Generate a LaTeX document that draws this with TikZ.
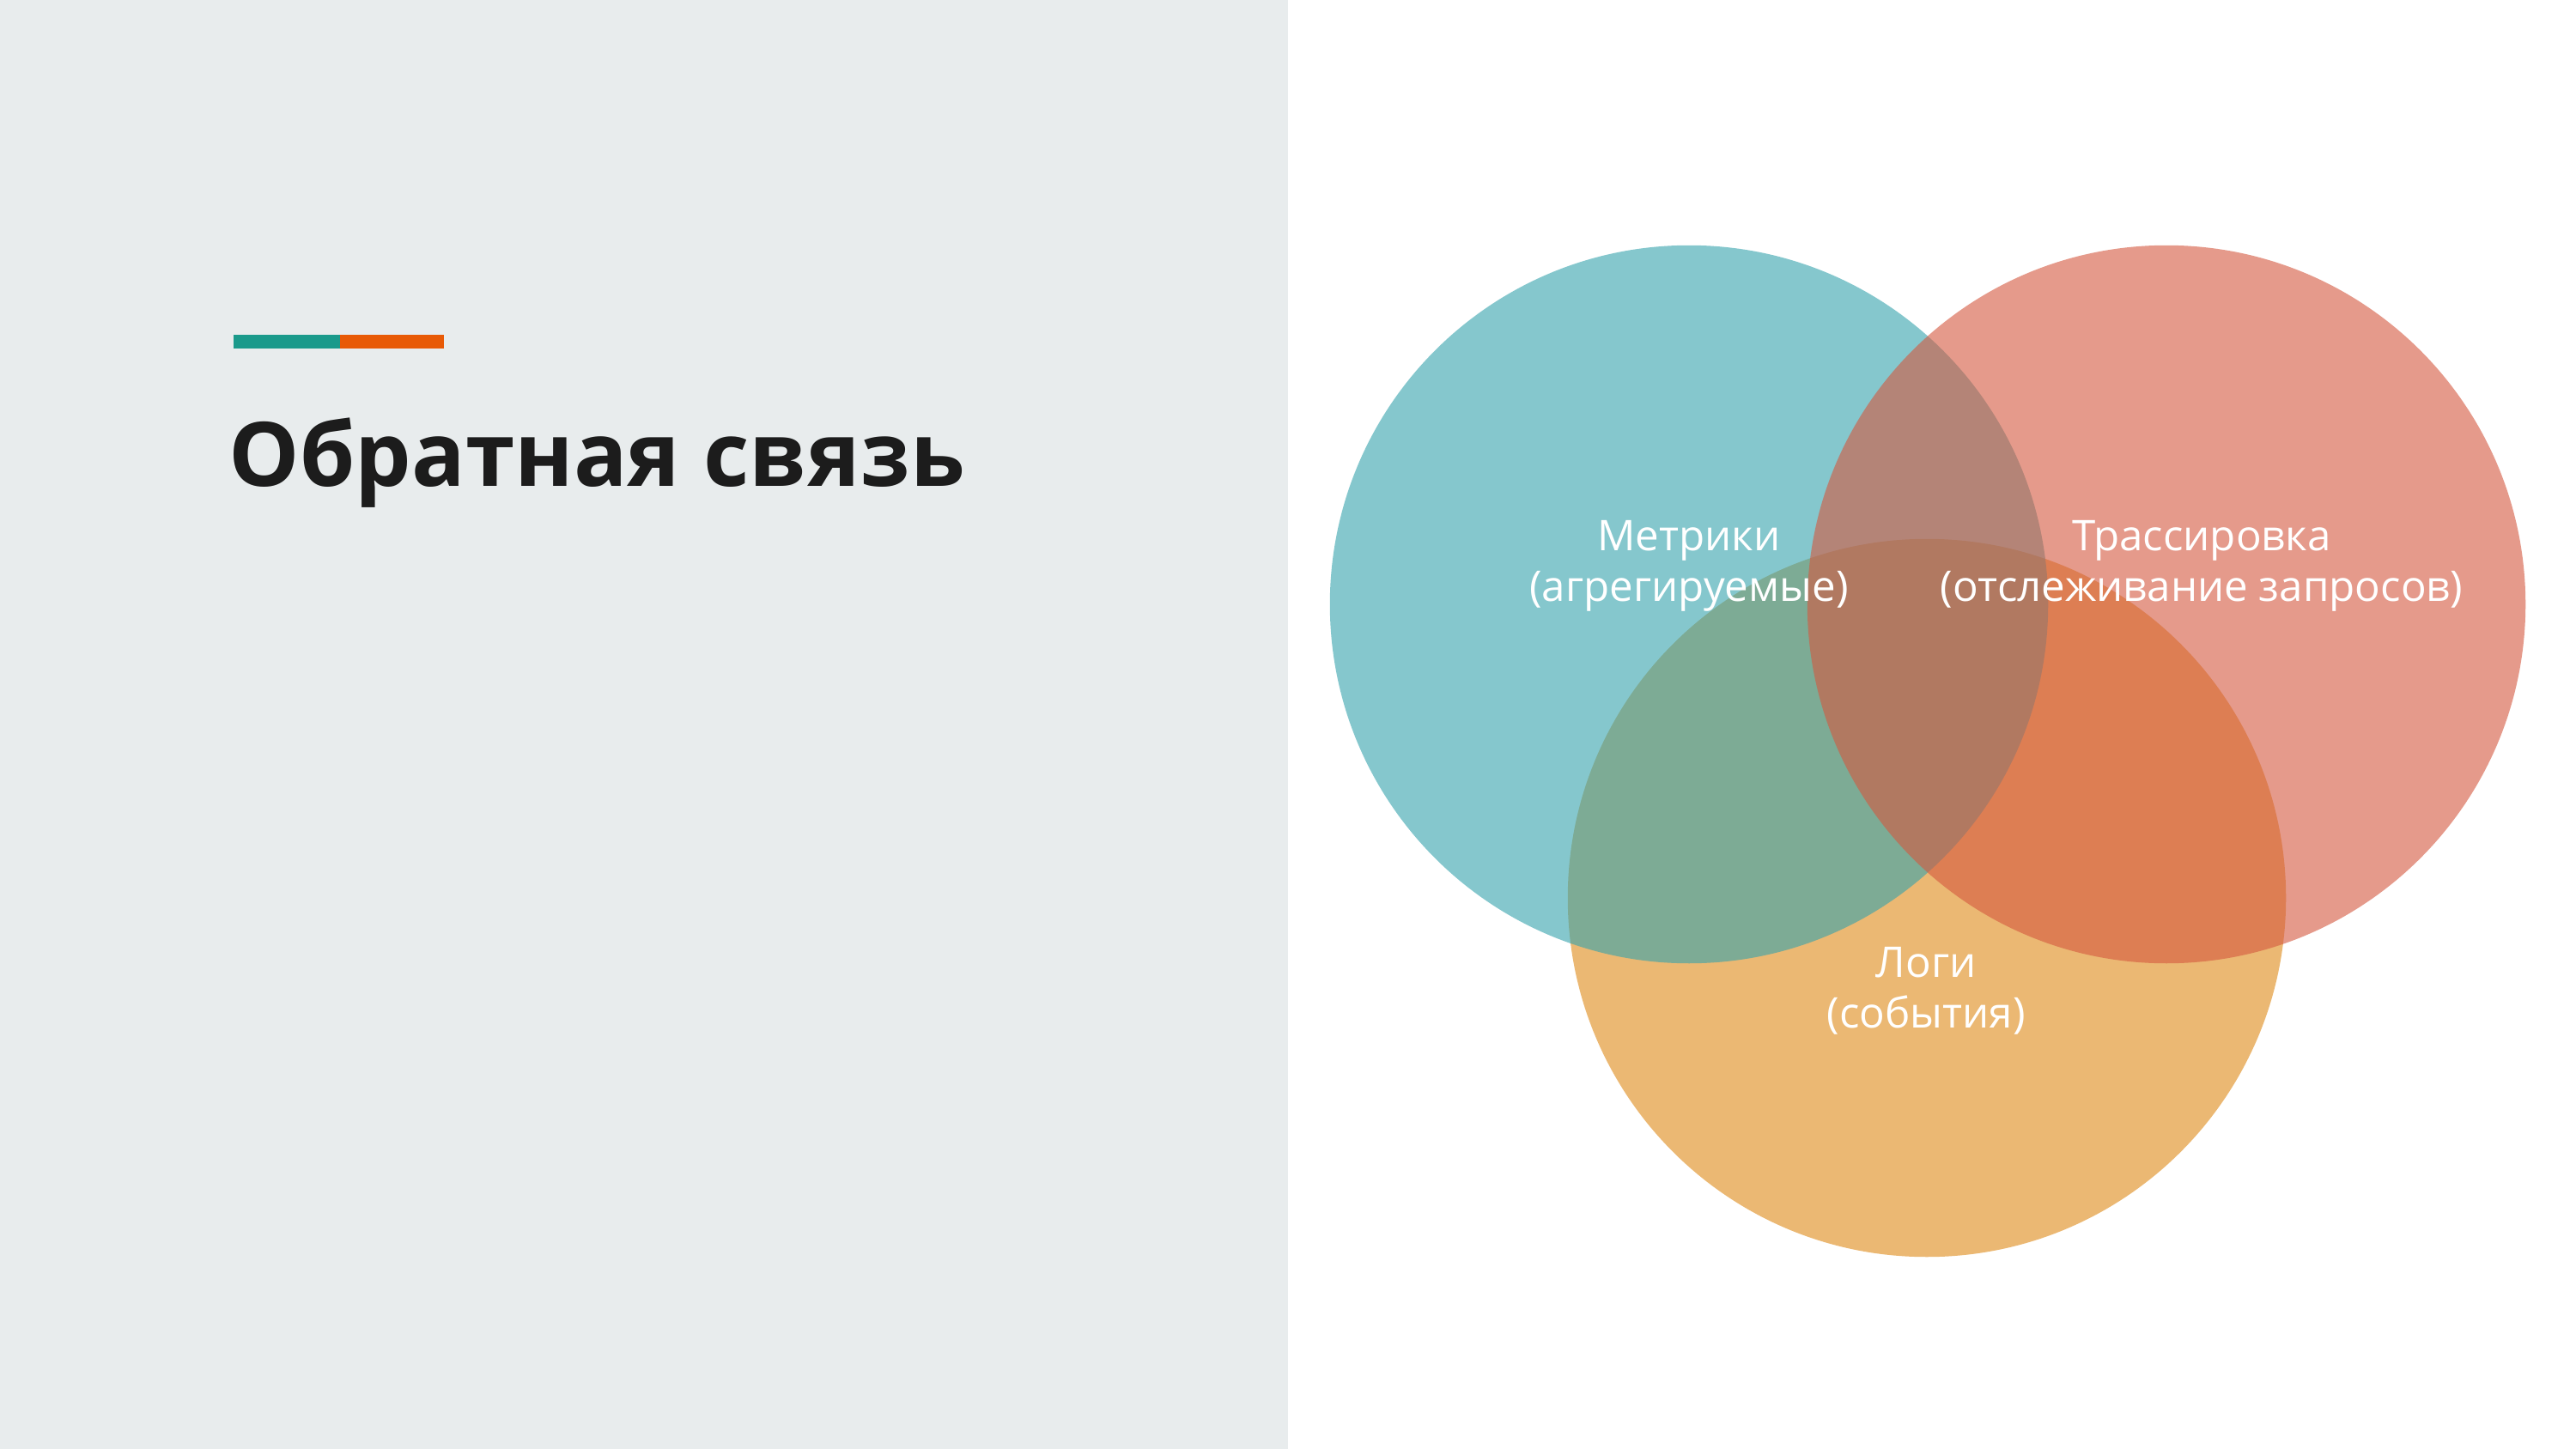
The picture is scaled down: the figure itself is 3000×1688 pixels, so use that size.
\documentclass[tikz,border=0pt]{standalone}
\usepackage{fontspec}
\setmainfont{Open Sans}
\usepackage{tikz}
\usetikzlibrary{positioning, shapes.geometric}
\definecolor{panel}{HTML}{E8ECED}
\definecolor{titletext}{HTML}{1C1C1C}
\definecolor{barteal}{HTML}{1A9A8B}
\definecolor{barorange}{HTML}{E85A06}
\definecolor{setteal}{HTML}{35A3AD}
\definecolor{setred}{HTML}{D4583F}
\definecolor{setorange}{HTML}{DF8A17}
\tikzset{
  venn/.style={
    circle, draw=none, minimum size=8.36cm,
    inner sep=0pt, fill opacity=0.6,
  },
  setlabel/.style={
    align=center, text=white, font=\fontsize{14}{16.8}\selectfont,
  },
  heading/.style={
    anchor=base west, inner sep=0pt, text=titletext,
    font=\fontsize{29.5}{34}\selectfont\bfseries,
  },
}
\begin{document}
\begin{tikzpicture}[x=0.01cm, y=-0.01cm]

  % page and left panel
  \fill[white] (0,0) rectangle (3000,1688);
  \fill[panel] (0,0) rectangle (1500,1688);
  \useasboundingbox (0,0) rectangle (3000,1688);

  % accent bar and title
  \fill[barteal] (272,390) rectangle (396,406);
  \fill[barorange] (396,390) rectangle (517,406);
  \node[heading] (title) at (266,566) {Обратная связь};

  % the three sets
  \node[venn, fill=setorange] (logs) at (2244,1046) {};
  \node[venn, fill=setteal] (metrics) at (1967,704) {};
  \node[venn, fill=setred] (traces) at (2523,704) {};

  \node[setlabel] (metricslabel) at (1967,659) {Метрики\\(агрегируемые)};
  \node[setlabel] (traceslabel) at (2564,659) {Трассировка\\(отслеживание запросов)};
  \node[setlabel] (logslabel) at (2243,1154) {Логи\\(события)};

\end{tikzpicture}
\end{document}
